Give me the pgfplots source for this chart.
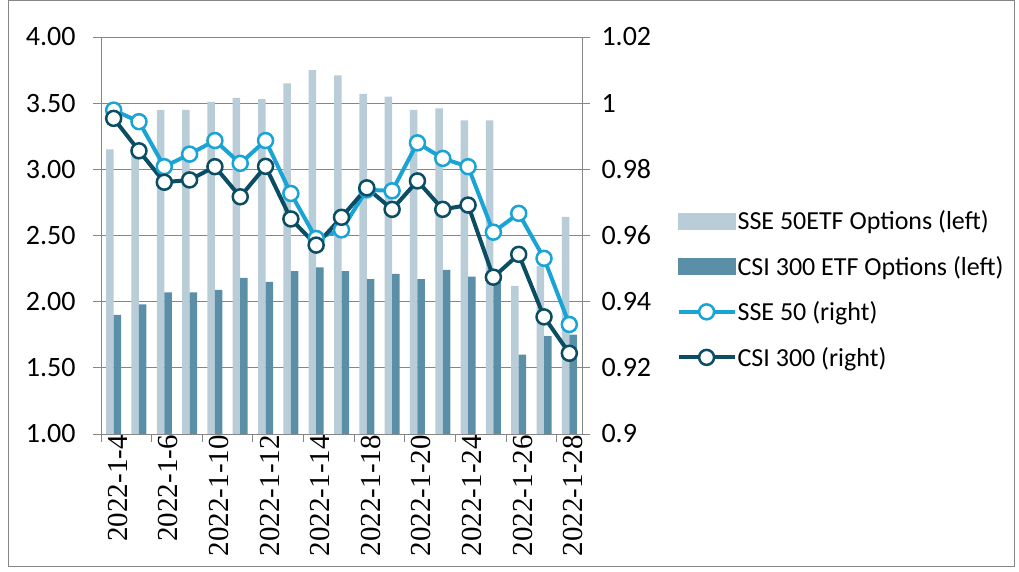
\documentclass[border=0pt]{standalone}
\usepackage{pgfplots}
\pgfplotsset{compat=1.18}
\usepackage{fontspec}
\setmainfont{Carlito}
\newfontfamily\serifx{Liberation Serif}
\definecolor{lbar}{HTML}{B9CDD9}
\definecolor{dbar}{HTML}{5B8FA8}
\definecolor{sse}{HTML}{1AA3D5}
\definecolor{csi}{HTML}{0B4D63}
\definecolor{axgray}{HTML}{868686}
\pgfplotsset{
  linelegend/.style={legend image code/.code={\draw[##1, mark repeat=2, mark phase=2] plot coordinates {(0pt,0pt)(28pt,0pt)(56pt,0pt)};}},
  myaxis/.style={
    scale only axis, width=481pt, height=397pt,
    at={(101pt,138pt)}, anchor=south west,
    xmin=-0.5, xmax=18.5,
    axis line style={axgray, line width=0.8pt},
    tick style={axgray, line width=0.8pt},
    tick align=outside,
    major tick length=8pt,
    tick label style={font=\fontsize{28}{30}\selectfont},
    /pgf/number format/assume math mode=true,
  }
}
\begin{document}
\begin{tikzpicture}[x=1pt,y=1pt]
\useasboundingbox (0,0) rectangle (1019,572);
\draw[axgray, line width=1pt] (8,5) rectangle (1014,571);
\begin{axis}[myaxis,
  axis x line*=bottom, axis y line*=left,
  ymin=1, ymax=4,
  ytick={1,1.5,...,4},
  yticklabel style={xshift=-14pt, /pgf/number format/fixed, /pgf/number format/fixed zerofill, /pgf/number format/precision=2},
  ymajorgrids, grid style={axgray, line width=0.8pt},
  xtick={-0.5,1.5,...,17.5}, xticklabels={},
  extra x ticks={0,2,...,18},
  extra x tick labels={2022-1-4,2022-1-6,2022-1-10,2022-1-12,2022-1-14,2022-1-18,2022-1-20,2022-1-24,2022-1-26,2022-1-28},
  extra x tick style={major tick length=0pt, xticklabel style={rotate=90, anchor=east, font=\serifx\fontsize{29}{29}\selectfont, inner sep=1pt, yshift=-4pt}},
]
\addplot[ybar, bar width=7.5pt, bar shift=-3.75pt, fill=lbar, draw=none] coordinates {
(0,3.15)(1,3.17)(2,3.45)(3,3.45)(4,3.51)(5,3.54)(6,3.53)(7,3.65)(8,3.75)(9,3.71)
(10,3.57)(11,3.55)(12,3.45)(13,3.46)(14,3.37)(15,3.37)(16,2.12)(17,2.27)(18,2.64)};
\addplot[ybar, bar width=7.5pt, bar shift=3.75pt, fill=dbar, draw=none] coordinates {
(0,1.90)(1,1.98)(2,2.07)(3,2.07)(4,2.09)(5,2.18)(6,2.15)(7,2.23)(8,2.26)(9,2.23)
(10,2.17)(11,2.21)(12,2.17)(13,2.24)(14,2.19)(15,2.17)(16,1.60)(17,1.74)(18,1.75)};
\end{axis}
\begin{axis}[myaxis,
  axis x line=none, axis y line*=right,
  ymin=0.9, ymax=1.02,
  ytick={0.9,0.92,0.94,0.96,0.98,1,1.02},
  yticklabels={0.9,0.92,0.94,0.96,0.98,1,1.02},
  yticklabel style={xshift=8pt},
  legend style={draw=none, fill=none, at={(1.19,0.365)}, anchor=west,
    font=\fontsize{26}{28}\selectfont, row sep=23pt,
    nodes={inner sep=1pt}},
  legend cell align=left,
]
\addlegendimage{legend image code/.code={\fill[lbar] (0pt,-8pt) rectangle (57pt,8pt);}}
\addlegendentry{SSE 50ETF Options (left)}
\addlegendimage{legend image code/.code={\fill[dbar] (0pt,-8pt) rectangle (57pt,8pt);}}
\addlegendentry{CSI 300 ETF Options (left)}
\addplot[sse, line width=4pt, mark=*, mark size=7.5pt, mark options={fill=white, draw=sse, line width=2.5pt}, linelegend] coordinates {
(0,0.9979)(1,0.9944)(2,0.9808)(3,0.9846)(4,0.9887)(5,0.9818)(6,0.9887)(7,0.9727)(8,0.9591)(9,0.9617)
(10,0.9738)(11,0.9735)(12,0.9880)(13,0.9833)(14,0.9808)(15,0.9610)(16,0.9667)(17,0.9531)(18,0.9331)};
\addlegendentry{SSE 50 (right)}
\addplot[csi, line width=4pt, mark=*, mark size=7.5pt, mark options={fill=white, draw=csi, line width=2.5pt}, linelegend] coordinates {
(0,0.9954)(1,0.9856)(2,0.9761)(3,0.9768)(4,0.9808)(5,0.9717)(6,0.9809)(7,0.9650)(8,0.9571)(9,0.9655)
(10,0.9744)(11,0.9679)(12,0.9765)(13,0.9679)(14,0.9692)(15,0.9474)(16,0.9543)(17,0.9354)(18,0.9244)};
\addlegendentry{CSI 300 (right)}
\end{axis}
\end{tikzpicture}
\end{document}
